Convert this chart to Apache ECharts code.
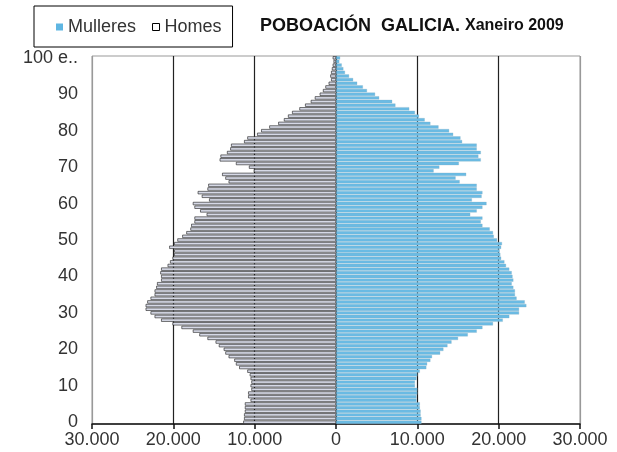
<!DOCTYPE html>
<html>
<head>
<meta charset="utf-8">
<script src="https://cdn.jsdelivr.net/npm/echarts@6/dist/echarts.min.js"></script>
<style>
html,body{margin:0;padding:0;background:#fff;}
#chart{width:617px;height:452px;}
</style>
</head>
<body>
<div id="chart"></div>
<script>
// Ages 0 .. 100+ (bottom to top)
var ages = [];
for (var i = 0; i < 100; i++) ages.push(String(i));
ages.push('100 e..');

// Homes (men), persons per age
var homes = [
11400,11300,11300,11200,11200,11200,10500,10800,10800,10400,
10500,10400,10500,10600,10900,11900,12300,12500,13200,13600,
13800,14400,14800,15800,16800,17600,19000,20100,21500,22300,
22800,23400,23400,23200,22800,22300,22300,22100,22000,21500,
21500,21600,21500,20700,20400,20100,19900,19900,20500,19900,
19500,18900,18400,17900,17800,17400,17400,15900,16700,17400,
17600,15600,16500,17000,15800,15700,13200,13600,14000,10100,
10700,12300,14300,14200,13400,13000,12900,11300,10900,9700,
9200,8200,7100,6400,5900,5400,4500,3800,3100,2600,
2000,1600,1300,900,600,700,600,500,400,300,
400];

// Mulleres (women), persons per age
var mulleres = [
10500,10500,10400,10400,10300,10300,9900,9900,10000,10000,
9700,9700,9900,10000,10300,11100,11200,11600,11800,12800,
13200,13700,14200,15000,16200,17300,18000,19300,20500,21300,
22500,22500,23400,23200,22200,22000,22000,21800,21600,21800,
21700,21600,21300,20900,20700,20300,20200,20100,20300,20400,
19800,19400,19300,18900,18000,17800,18000,16500,17300,18000,
18500,16700,17900,18000,17300,17300,15200,14700,16000,12000,
12700,15100,17800,17500,17800,17300,17300,15500,15300,14400,
13900,12600,11600,10900,10200,9700,9000,7300,6900,5300,
4800,3800,3300,2600,2100,1600,1100,900,700,400,
500];

var xTicks = [-30000,-20000,-10000,0,10000,20000,30000];

function fmt(v){
  var a = Math.abs(v);
  return String(a).replace(/\B(?=(\d{3})+(?!\d))/g, '.');
}

var chart = echarts.init(document.getElementById('chart'), null, {renderer:'canvas'});
var FONT = 'Liberation Sans, Arial, sans-serif';

chart.setOption({
  animation:false,
  backgroundColor:'#ffffff',
  title:{
    left:255, top:12,
    text:'{a|POBOACIÓN  GALICIA.} {b|Xaneiro 2009}',
    textStyle:{
      rich:{
        a:{fontFamily:FONT,fontSize:18,fontWeight:'bold',color:'#111'},
        b:{fontFamily:FONT,fontSize:16,fontWeight:'bold',color:'#111'}
      }
    }
  },
  legend:{
    left:34, top:6,
    padding:[12,11,11,22],
    borderColor:'#000', borderWidth:1,
    itemWidth:7, itemHeight:7, itemGap:16,
    icon:'rect',
    textStyle:{fontFamily:FONT,fontSize:18,color:'#333'},
    data:[
      {name:'Mulleres', itemStyle:{color:'#5fb6e2',borderWidth:0}},
      {name:'Homes', itemStyle:{color:'#ffffff',borderColor:'#000',borderWidth:1}}
    ]
  },
  grid:{left:92,right:37,top:56,bottom:28,show:true,borderColor:'#999',borderWidth:1,backgroundColor:'transparent'},
  xAxis:{
    type:'value', min:-30000, max:30000, interval:10000,
    axisLine:{show:true,onZero:false,lineStyle:{color:'#111',width:1.5}},
    axisTick:{show:true,length:5,lineStyle:{color:'#111',width:1.5}},
    axisLabel:{margin:7,fontFamily:FONT,fontSize:18,color:'#333',formatter:fmt},
    splitLine:{show:true,lineStyle:{color:['#999','#222','#222','#222','#222','#222','#999'],width:1.2}}
  },
  yAxis:{
    type:'category', data:ages, boundaryGap:true,
    axisLine:{show:false}, axisTick:{show:false},
    axisLabel:{
      margin:14,fontFamily:FONT,fontSize:18,color:'#333',
      interval:function(i){return i%10===0;}
    },
    splitLine:{show:false}
  },
  series:[
    {
      name:'Mulleres', type:'bar', stack:'pir',
      barCategoryGap:'12%',
      data:mulleres,
      itemStyle:{color:'#6abbe4',borderColor:'#86aec2',borderWidth:0.3}
    },
    {
      name:'Homes', type:'bar', stack:'pir',
      barCategoryGap:'12%',
      data:homes.map(function(v){return -v;}),
      itemStyle:{color:'#d6d9e6',borderColor:'#1a1a1a',borderWidth:0.6}
    }
  ]
});
</script>
</body>
</html>
